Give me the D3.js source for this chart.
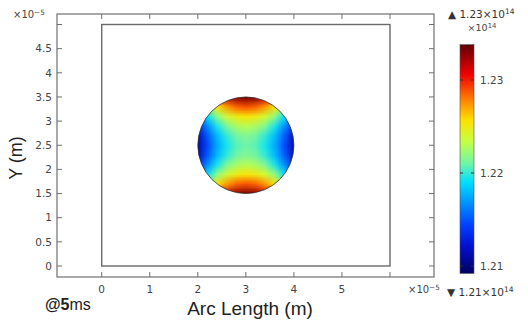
<!DOCTYPE html>
<html><head><meta charset="utf-8">
<script src="https://cdn.jsdelivr.net/npm/d3@7"></script>
<style>
html,body{margin:0;padding:0;background:#fff;}
svg{display:block;font-family:"Liberation Sans",Arial,sans-serif;}
</style></head>
<body>
<svg id="chart" width="528" height="327"></svg>
<script>
// ---- data ----
const xTicks = [0, 1, 2, 3, 4, 5, 6];
const xTickLabels = ["0", "1", "2", "3", "4", "5", ""];
const yTicks = [0, 0.5, 1, 1.5, 2, 2.5, 3, 3.5, 4, 4.5, 5];
const yTickLabels = ["0", "0.5", "1", "1.5", "2", "2.5", "3", "3.5", "4", "4.5", ""];
const domainRect = {x0: 0, x1: 6, y0: 0, y1: 5};        // ×1e-5 m
const circle = {cx: 3, cy: 2.5, r: 1};                   // ×1e-5 m
const gridX = [2.0, 2.2, 2.4, 2.6, 2.8, 3.0, 3.2, 3.4, 3.6, 3.8, 4.0];
const gridY = [3.5, 3.3, 3.1, 2.9, 2.7, 2.5, 2.3, 2.1, 1.9, 1.7, 1.5];
// field values (×1e14), rows top→bottom
const fieldValues = [
  [1.2235,1.2270,1.2298,1.2317,1.2329,1.2333,1.2329,1.2317,1.2298,1.2270,1.2235],
  [1.2191,1.2226,1.2254,1.2273,1.2285,1.2289,1.2285,1.2273,1.2254,1.2226,1.2191],
  [1.2156,1.2191,1.2219,1.2238,1.2250,1.2254,1.2250,1.2238,1.2219,1.2191,1.2156],
  [1.2132,1.2167,1.2195,1.2214,1.2226,1.2230,1.2226,1.2214,1.2195,1.2167,1.2132],
  [1.2117,1.2152,1.2180,1.2199,1.2211,1.2215,1.2211,1.2199,1.2180,1.2152,1.2117],
  [1.2112,1.2147,1.2175,1.2194,1.2206,1.2210,1.2206,1.2194,1.2175,1.2147,1.2112],
  [1.2117,1.2152,1.2180,1.2199,1.2211,1.2215,1.2211,1.2199,1.2180,1.2152,1.2117],
  [1.2132,1.2167,1.2195,1.2214,1.2226,1.2230,1.2226,1.2214,1.2195,1.2167,1.2132],
  [1.2156,1.2191,1.2219,1.2238,1.2250,1.2254,1.2250,1.2238,1.2219,1.2191,1.2156],
  [1.2191,1.2226,1.2254,1.2273,1.2285,1.2289,1.2285,1.2273,1.2254,1.2226,1.2191],
  [1.2235,1.2270,1.2298,1.2317,1.2329,1.2333,1.2329,1.2317,1.2298,1.2270,1.2235]
];
const colorMin = 1.2092, colorMax = 1.2338;
const cbTicks = [1.21, 1.22, 1.23];
const cbTickLabels = ["1.21", "1.22", "1.23"];
const maxLabel = "1.23", minLabel = "1.21";

// ---- styling / layout ----
const cmapPos = [0.00, 0.12, 0.21, 0.40, 0.48, 0.58, 0.67, 0.76, 0.87, 1.00];
const cmapCol = ["#000060", "#0010d0", "#0040ff", "#00e0ff", "#70f5a8", "#c8ff40", "#ffe000", "#ff8000", "#f00000", "#600000"];

const svg = d3.select("#chart");
const x = d3.scaleLinear().domain([0, 6]).range([101.7, 390]);
const y = d3.scaleLinear().domain([0, 5]).range([266, 24.5]);
const frame = {l: 57, r: 434, t: 14, b: 277};
const color = d3.scaleLinear()
  .domain(cmapPos.map(p => colorMin + p * (colorMax - colorMin)))
  .range(cmapCol).clamp(true);

// frame
svg.append("rect").attr("x", frame.l).attr("y", frame.t)
  .attr("width", frame.r - frame.l).attr("height", frame.b - frame.t)
  .attr("fill", "none").attr("stroke", "#707070").attr("stroke-width", 1.2);

const tickLen = 5;
const gT = svg.append("g").attr("stroke", "#707070").attr("stroke-width", 1);
xTicks.forEach(v => {
  gT.append("line").attr("x1", x(v)).attr("x2", x(v)).attr("y1", frame.b).attr("y2", frame.b - tickLen);
  gT.append("line").attr("x1", x(v)).attr("x2", x(v)).attr("y1", frame.t).attr("y2", frame.t + tickLen);
});
yTicks.forEach(v => {
  gT.append("line").attr("y1", y(v)).attr("y2", y(v)).attr("x1", frame.l).attr("x2", frame.l + tickLen);
  gT.append("line").attr("y1", y(v)).attr("y2", y(v)).attr("x1", frame.r).attr("x2", frame.r - tickLen);
});

const tickFont = "'DejaVu Sans', sans-serif";
svg.append("g").selectAll("text").data(xTicks).join("text")
  .attr("x", d => x(d)).attr("y", 293).attr("text-anchor", "middle")
  .attr("font-family", tickFont).attr("font-size", 10.5).attr("fill", "#444")
  .text((d, i) => xTickLabels[i]);
svg.append("g").selectAll("text").data(yTicks).join("text")
  .attr("x", 52).attr("y", d => y(d)).attr("dy", "0.36em").attr("text-anchor", "end")
  .attr("font-family", tickFont).attr("font-size", 10.5).attr("fill", "#444")
  .text((d, i) => yTickLabels[i]);

// exponent labels
function expLabel(px, py, base, exp, anchor, size) {
  const fs = size || 10;
  const t = svg.append("text").attr("x", px).attr("y", py)
    .attr("font-family", tickFont).attr("font-size", fs).attr("fill", "#444")
    .attr("text-anchor", anchor || "start");
  t.append("tspan").text(base);
  t.append("tspan").attr("dy", -3.5).attr("font-size", fs * 0.72).text(exp);
  return t;
}
expLabel(13, 18, "×10", "−5");
expLabel(408, 293, "×10", "−5");

// axis titles
svg.append("text").attr("transform", "translate(22,158) rotate(-90)")
  .attr("text-anchor", "middle").attr("font-size", 18).attr("fill", "#222").text("Y (m)");
svg.append("text").attr("x", 250).attr("y", 315).attr("text-anchor", "middle")
  .attr("font-size", 19).attr("fill", "#222").text("Arc Length (m)");
const at = svg.append("text").attr("x", 45).attr("y", 310).attr("font-size", 16).attr("fill", "#222");
at.append("tspan").attr("font-weight", "bold").text("@5");
at.append("tspan").text("ms");

// geometry rectangle
svg.append("rect").attr("x", x(domainRect.x0)).attr("y", y(domainRect.y1))
  .attr("width", x(domainRect.x1) - x(domainRect.x0)).attr("height", y(domainRect.y0) - y(domainRect.y1))
  .attr("fill", "none").attr("stroke", "#6a6a6a").attr("stroke-width", 1.4);

// heat field
const nx = gridX.length, ny = gridY.length;
const cnv = document.createElement("canvas");
cnv.width = nx; cnv.height = ny;
const ctx = cnv.getContext("2d");
fieldValues.forEach((row, j) => row.forEach((v, i) => {
  ctx.fillStyle = color(v);
  ctx.fillRect(i, j, 1, 1);
}));
const dx = (gridX[1] - gridX[0]) / 2, dy = (gridY[0] - gridY[1]) / 2;
const defs = svg.append("defs");
defs.append("clipPath").attr("id", "circClip").append("ellipse")
  .attr("cx", x(circle.cx)).attr("cy", y(circle.cy))
  .attr("rx", x(circle.cx + circle.r) - x(circle.cx))
  .attr("ry", y(circle.cy - circle.r) - y(circle.cy));
svg.append("image")
  .attr("href", cnv.toDataURL())
  .attr("x", x(gridX[0] - dx)).attr("y", y(gridY[0] + dy))
  .attr("width", x(gridX[nx - 1] + dx) - x(gridX[0] - dx))
  .attr("height", y(gridY[ny - 1] - dy) - y(gridY[0] + dy))
  .attr("preserveAspectRatio", "none")
  .attr("clip-path", "url(#circClip)");
svg.append("ellipse")
  .attr("cx", x(circle.cx)).attr("cy", y(circle.cy))
  .attr("rx", x(circle.cx + circle.r) - x(circle.cx))
  .attr("ry", y(circle.cy - circle.r) - y(circle.cy))
  .attr("fill", "none").attr("stroke", "#333").attr("stroke-width", 0.8);

// colorbar
const cb = d3.scaleLinear().domain([1.21, 1.23]).range([266, 80]);
const grad = defs.append("linearGradient").attr("id", "cbGrad")
  .attr("x1", 0).attr("x2", 0).attr("y1", 1).attr("y2", 0);
cmapPos.forEach((p, i) => grad.append("stop").attr("offset", p).attr("stop-color", cmapCol[i]));
const cbX = 460, cbW = 14;
svg.append("rect").attr("x", cbX).attr("y", cb(colorMax)).attr("width", cbW)
  .attr("height", cb(colorMin) - cb(colorMax)).attr("fill", "url(#cbGrad)")
  .attr("stroke", "#555").attr("stroke-width", 0.6);
cbTicks.forEach(v => {
  svg.append("line").attr("x1", cbX).attr("x2", cbX + 3).attr("y1", cb(v)).attr("y2", cb(v)).attr("stroke", "#333");
  svg.append("line").attr("x1", cbX + cbW).attr("x2", cbX + cbW - 3).attr("y1", cb(v)).attr("y2", cb(v)).attr("stroke", "#333");
});
svg.append("g").selectAll("text").data(cbTicks).join("text")
  .attr("x", 480).attr("y", d => cb(d)).attr("dy", "0.36em")
  .attr("font-family", tickFont).attr("font-size", 10.5).attr("fill", "#444")
  .text((d, i) => cbTickLabels[i]);

expLabel(482, 31, "×10", "14", "middle", 9.5);
const mx = svg.append("text").attr("x", 448).attr("y", 18)
  .attr("font-family", tickFont).attr("font-size", 10.5).attr("fill", "#333");
mx.append("tspan").text("▲ " + maxLabel + "×10");
mx.append("tspan").attr("dy", -4).attr("font-size", 7.5).text("14");
const mn = svg.append("text").attr("x", 447).attr("y", 296)
  .attr("font-family", tickFont).attr("font-size", 10.5).attr("fill", "#333");
mn.append("tspan").text("▼ " + minLabel + "×10");
mn.append("tspan").attr("dy", -4).attr("font-size", 7.5).text("14");
</script>
</body></html>
